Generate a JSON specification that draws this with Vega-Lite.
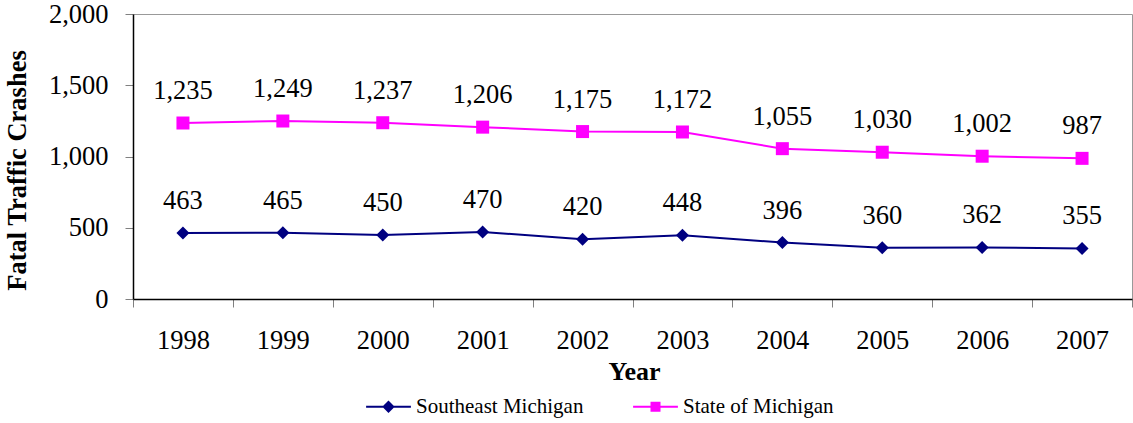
{
  "$schema": "https://vega.github.io/schema/vega-lite/v6.json",
  "width": 999,
  "height": 285,
  "autosize": {"type": "none"},
  "padding": {"left": 133, "top": 14, "right": 1, "bottom": 124},
  "background": "white",
  "config": {
    "font": "Liberation Serif",
    "view": {"stroke": "#999999", "strokeWidth": 1},
    "axis": {"grid": false, "labelColor": "black", "titleColor": "black", "labelFont": "Liberation Serif", "titleFont": "Liberation Serif"},
    "legend": {"labelFont": "Liberation Serif"}
  },
  "data": {
    "values": [
      {"year": "1998", "series": "Southeast Michigan", "value": 463},
      {"year": "1999", "series": "Southeast Michigan", "value": 465},
      {"year": "2000", "series": "Southeast Michigan", "value": 450},
      {"year": "2001", "series": "Southeast Michigan", "value": 470},
      {"year": "2002", "series": "Southeast Michigan", "value": 420},
      {"year": "2003", "series": "Southeast Michigan", "value": 448},
      {"year": "2004", "series": "Southeast Michigan", "value": 396},
      {"year": "2005", "series": "Southeast Michigan", "value": 360},
      {"year": "2006", "series": "Southeast Michigan", "value": 362},
      {"year": "2007", "series": "Southeast Michigan", "value": 355},
      {"year": "1998", "series": "State of Michigan", "value": 1235},
      {"year": "1999", "series": "State of Michigan", "value": 1249},
      {"year": "2000", "series": "State of Michigan", "value": 1237},
      {"year": "2001", "series": "State of Michigan", "value": 1206},
      {"year": "2002", "series": "State of Michigan", "value": 1175},
      {"year": "2003", "series": "State of Michigan", "value": 1172},
      {"year": "2004", "series": "State of Michigan", "value": 1055},
      {"year": "2005", "series": "State of Michigan", "value": 1030},
      {"year": "2006", "series": "State of Michigan", "value": 1002},
      {"year": "2007", "series": "State of Michigan", "value": 987}
    ]
  },
  "encoding": {
    "x": {
      "field": "year", "type": "ordinal",
      "scale": {"type": "band", "paddingInner": 0, "paddingOuter": 0},
      "axis": {
        "title": "Year", "titleFontSize": 26, "titleFontWeight": "bold",
        "titleX": 501, "titleY": 72, "titleBaseline": "middle", "titleAlign": "center",
        "labelFontSize": 26.5, "labelAngle": 0, "labelPadding": 20,
        "tickBand": "extent", "tickSize": 8, "tickColor": "#808080",
        "domainColor": "black", "domainWidth": 1.5
      }
    },
    "y": {
      "field": "value", "type": "quantitative",
      "scale": {"domain": [0, 2000], "nice": false},
      "axis": {
        "title": "Fatal Traffic Crashes", "titleFontSize": 26.5, "titleFontWeight": "bold",
        "titleX": -115.5, "titleY": 156, "titleBaseline": "middle", "titleAlign": "center", "titleAngle": -90,
        "values": [0, 500, 1000, 1500, 2000], "format": ",.0f",
        "labelFontSize": 26.5, "labelPadding": 17,
        "tickSize": 8, "tickColor": "#808080",
        "domainColor": "black", "domainWidth": 1.5
      }
    }
  },
  "layer": [
    {
      "mark": {"type": "line", "strokeWidth": 2},
      "encoding": {
        "color": {
          "field": "series", "type": "nominal",
          "scale": {"domain": ["Southeast Michigan", "State of Michigan"], "range": ["#000080", "#FF00FF"]},
          "legend": {
            "title": null, "orient": "none", "direction": "horizontal",
            "legendX": 245, "legendY": 382,
            "labelFontSize": 21, "labelColor": "black", "labelLimit": 400,
            "symbolSize": 64, "labelOffset": 17, "columnPadding": 45,
            "symbolStrokeWidth": 2,
            "encode": {
              "symbols": {
                "update": {
                  "shape": {"signal": "datum.value === 'Southeast Michigan' ? 'M-5.6,0H5.6M-1.2,0L0,-1.2L1.2,0L0,1.2Z' : 'M-5.6,0H5.6M-1,-1H1V1H-1Z'"},
                  "fill": {"scale": "color", "field": "value"},
                  "stroke": {"scale": "color", "field": "value"},
                  "strokeWidth": {"value": 2},
                  "size": {"value": 64},
                  "opacity": {"value": 1}
                }
              }
            }
          }
        }
      }
    },
    {
      "transform": [{"filter": "datum.series === 'Southeast Michigan'"}],
      "mark": {"type": "point", "shape": "diamond", "filled": true, "opacity": 1, "size": 169, "color": "#000080", "strokeWidth": 0}
    },
    {
      "transform": [{"filter": "datum.series === 'State of Michigan'"}],
      "mark": {"type": "point", "shape": "square", "filled": true, "opacity": 1, "size": 169, "color": "#FF00FF", "strokeWidth": 0}
    },
    {
      "mark": {"type": "text", "fontSize": 26.5, "baseline": "alphabetic", "dy": -24, "color": "black"},
      "encoding": {
        "text": {"field": "value", "type": "quantitative", "format": ","}
      }
    }
  ]
}
